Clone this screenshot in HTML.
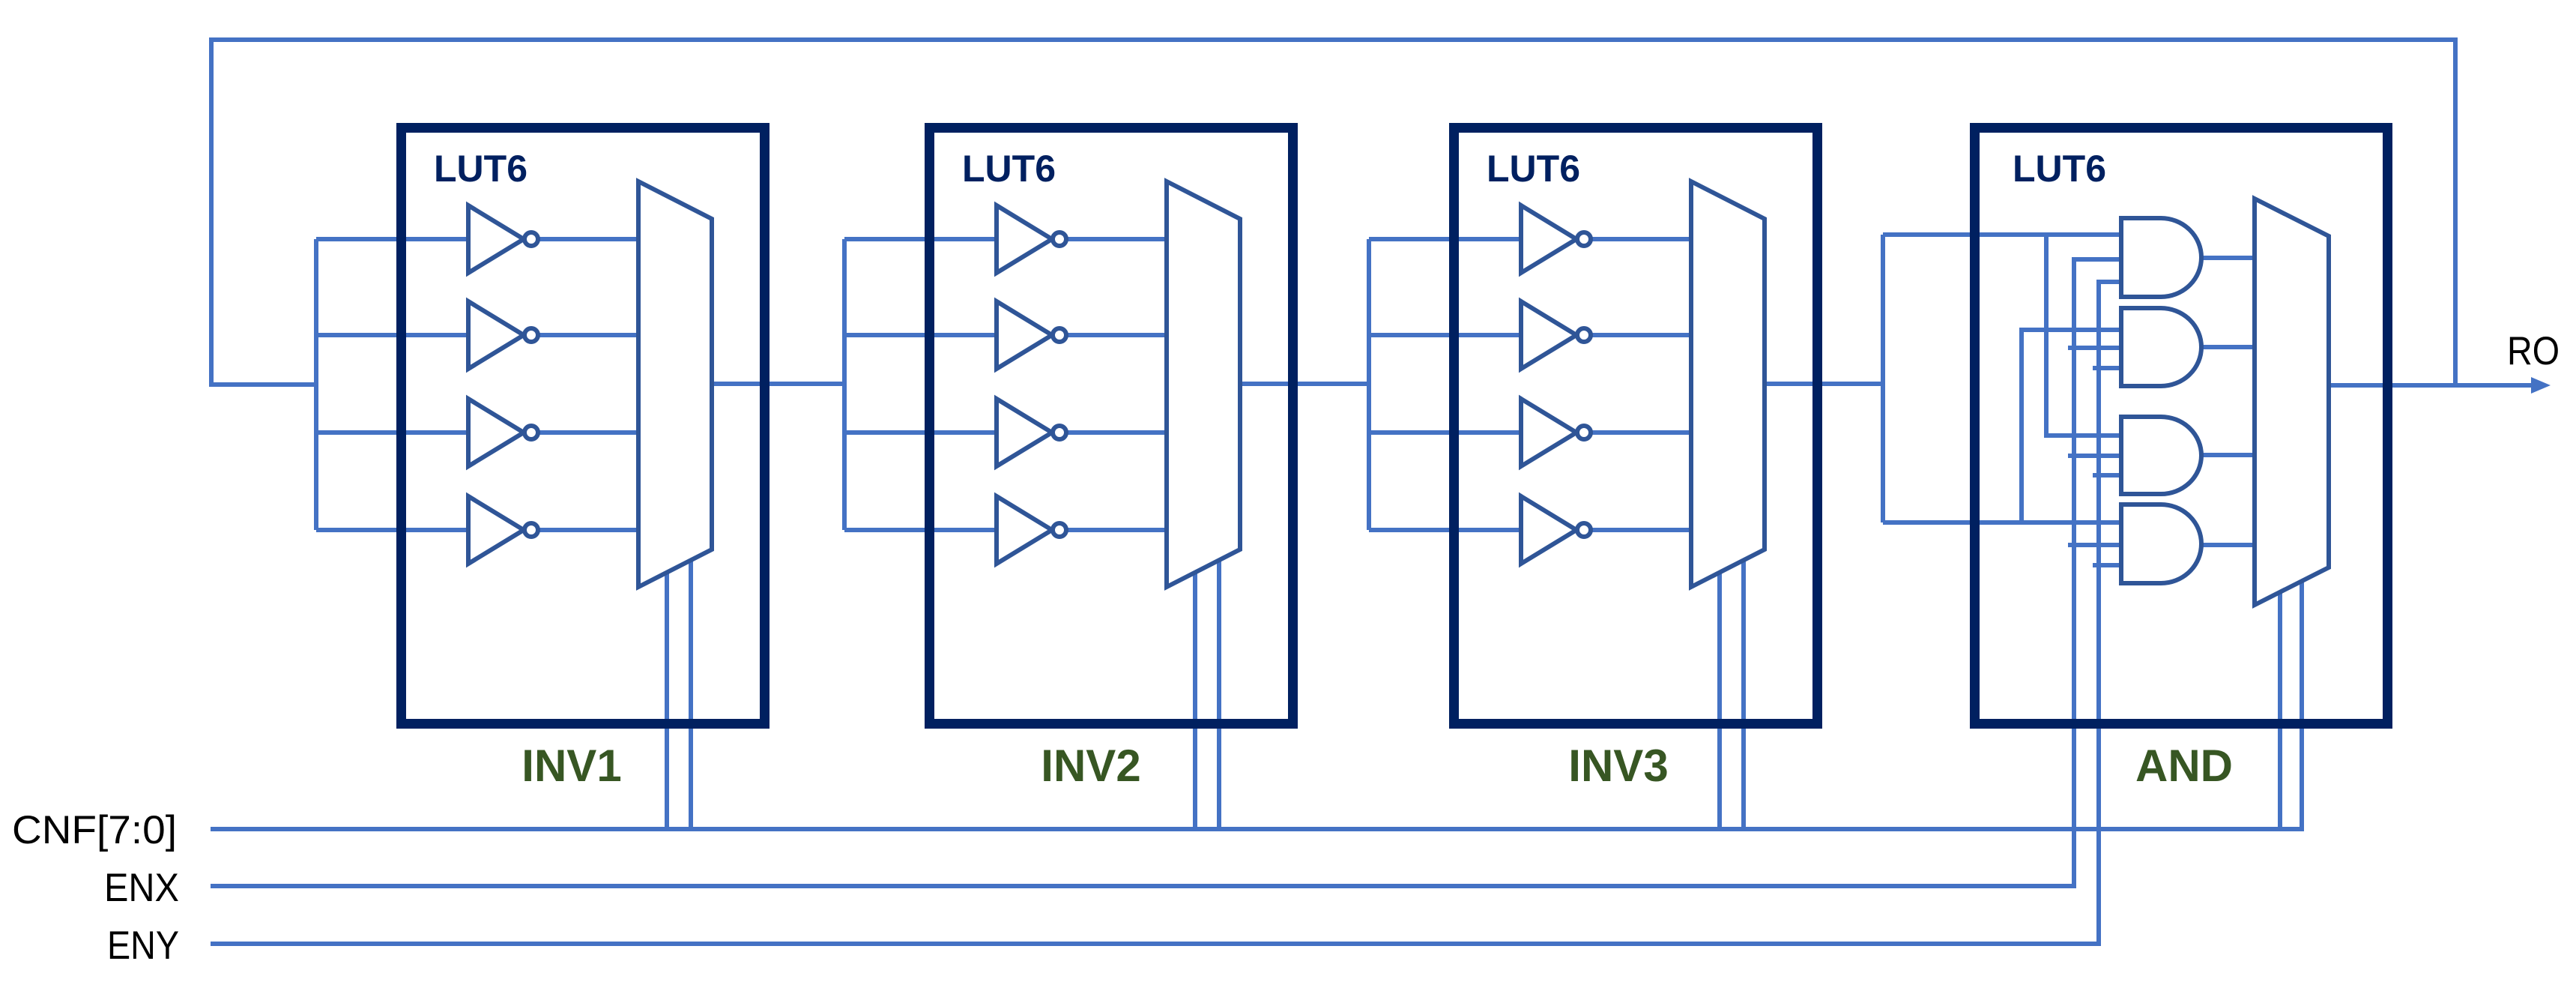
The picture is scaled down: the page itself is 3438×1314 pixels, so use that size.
<!DOCTYPE html>
<html><head><meta charset="utf-8"><style>
html,body{margin:0;padding:0;background:#fff;}
svg{display:block;}
</style></head><body>
<svg width="3438" height="1314" viewBox="0 0 3438 1314" xmlns="http://www.w3.org/2000/svg">
<defs>
<g id="inv">
  <!-- inverter block relative to block1 coords (offset applied by translate) -->
  <g fill="none" stroke="#4472C4" stroke-width="6">
    <line x1="422" y1="319" x2="422" y2="707"/>
    <line x1="422" y1="319" x2="625" y2="319"/>
    <line x1="422" y1="447" x2="625" y2="447"/>
    <line x1="422" y1="577" x2="625" y2="577"/>
    <line x1="422" y1="707" x2="625" y2="707"/>
    <line x1="719" y1="319" x2="852" y2="319"/>
    <line x1="719" y1="447" x2="852" y2="447"/>
    <line x1="719" y1="577" x2="852" y2="577"/>
    <line x1="719" y1="707" x2="852" y2="707"/>
    <line x1="890" y1="764" x2="890" y2="1106"/>
    <line x1="922" y1="748" x2="922" y2="1106"/>
  </g>
  <g fill="#fff" stroke="#2F5597" stroke-width="6">
    <polygon points="625,274 699,319 625,364"/>
    <circle cx="709" cy="319" r="9"/>
    <polygon points="625,402 699,447 625,492"/>
    <circle cx="709" cy="447" r="9"/>
    <polygon points="625,532 699,577 625,622"/>
    <circle cx="709" cy="577" r="9"/>
    <polygon points="625,662 699,707 625,752"/>
    <circle cx="709" cy="707" r="9"/>
    <polygon points="852,242 950,292 950,733 852,783"/>
  </g>
  <rect x="535.5" y="170.5" width="485" height="795" fill="none" stroke="#002060" stroke-width="13"/>
  <text x="579" y="242" font-family="Liberation Sans, sans-serif" font-weight="bold" font-size="50" fill="#002060" textLength="125" lengthAdjust="spacingAndGlyphs">LUT6</text>
</g>
</defs>

<!-- feedback -->
<g fill="none" stroke="#4472C4" stroke-width="6">
  <polyline points="3277,514 3277,53 282,53 282,513 422,513"/>
  <!-- inter-block connections -->
  <line x1="950" y1="512" x2="1127" y2="512"/>
  <line x1="1655" y1="512" x2="1827" y2="512"/>
  <line x1="2358" y1="512" x2="2513" y2="512"/>
  <line x1="3108" y1="514" x2="3385" y2="514"/>
  <!-- control lines -->
  <line x1="281" y1="1106" x2="3075" y2="1106"/>
  <line x1="281" y1="1182" x2="2771" y2="1182"/>
  <line x1="281" y1="1259" x2="2804" y2="1259"/>
</g>
<polygon points="3404,514 3378,503 3378,525" fill="#4472C4"/>

<use href="#inv"/>
<use href="#inv" transform="translate(705,0)"/>
<use href="#inv" transform="translate(1405,0)"/>

<!-- AND block -->
<g fill="none" stroke="#4472C4" stroke-width="6">
  <line x1="2513" y1="313" x2="2513" y2="697"/>
  <line x1="2513" y1="313" x2="2831" y2="313"/>
  <line x1="2513" y1="697" x2="2831" y2="697"/>
  <polyline points="2731,313 2731,581 2831,581"/>
  <polyline points="2698,697 2698,440 2831,440"/>
  <polyline points="2768,1182 2768,346 2831,346"/>
  <polyline points="2801,1259 2801,376 2831,376"/>
  <line x1="2760" y1="464" x2="2831" y2="464"/>
  <line x1="2760" y1="608" x2="2831" y2="608"/>
  <line x1="2760" y1="727" x2="2831" y2="727"/>
  <line x1="2793" y1="491" x2="2831" y2="491"/>
  <line x1="2793" y1="634" x2="2831" y2="634"/>
  <line x1="2793" y1="754" x2="2831" y2="754"/>
  <line x1="2938" y1="344" x2="3009" y2="344"/>
  <line x1="2938" y1="463" x2="3009" y2="463"/>
  <line x1="2938" y1="607" x2="3009" y2="607"/>
  <line x1="2938" y1="727" x2="3009" y2="727"/>
  <line x1="3043" y1="790" x2="3043" y2="1106"/>
  <line x1="3072" y1="776" x2="3072" y2="1106"/>
</g>
<g fill="#fff" stroke="#2F5597" stroke-width="6">
  <path d="M2831,291 H2884 A54,52.5 0 0 1 2884,396 H2831 Z"/>
  <path d="M2831,411 H2884 A54,52 0 0 1 2884,515 H2831 Z"/>
  <path d="M2831,556 H2884 A54,51.5 0 0 1 2884,659 H2831 Z"/>
  <path d="M2831,673 H2884 A54,52.5 0 0 1 2884,778 H2831 Z"/>
  <polygon points="3009,265 3108,315 3108,757 3009,807"/>
</g>
<rect x="2635.5" y="170.5" width="551" height="795" fill="none" stroke="#002060" stroke-width="13"/>
<text x="2686" y="242" font-family="Liberation Sans, sans-serif" font-weight="bold" font-size="50" fill="#002060" textLength="125" lengthAdjust="spacingAndGlyphs">LUT6</text>

<!-- labels -->
<g font-family="Liberation Sans, sans-serif" font-weight="bold" font-size="60" fill="#375623" text-anchor="middle">
  <text x="763" y="1042">INV1</text>
  <text x="1456" y="1042">INV2</text>
  <text x="2160" y="1042">INV3</text>
  <text x="2915" y="1042">AND</text>
</g>
<g font-family="Liberation Sans, sans-serif" font-size="53" fill="#000">
  <text x="16" y="1125" textLength="220" lengthAdjust="spacingAndGlyphs">CNF[7:0]</text>
  <text x="139" y="1202" textLength="100" lengthAdjust="spacingAndGlyphs">ENX</text>
  <text x="143" y="1279" textLength="96" lengthAdjust="spacingAndGlyphs">ENY</text>
  <text x="3346" y="486" textLength="70" lengthAdjust="spacingAndGlyphs">RO</text>
</g>
</svg>
</body></html>
